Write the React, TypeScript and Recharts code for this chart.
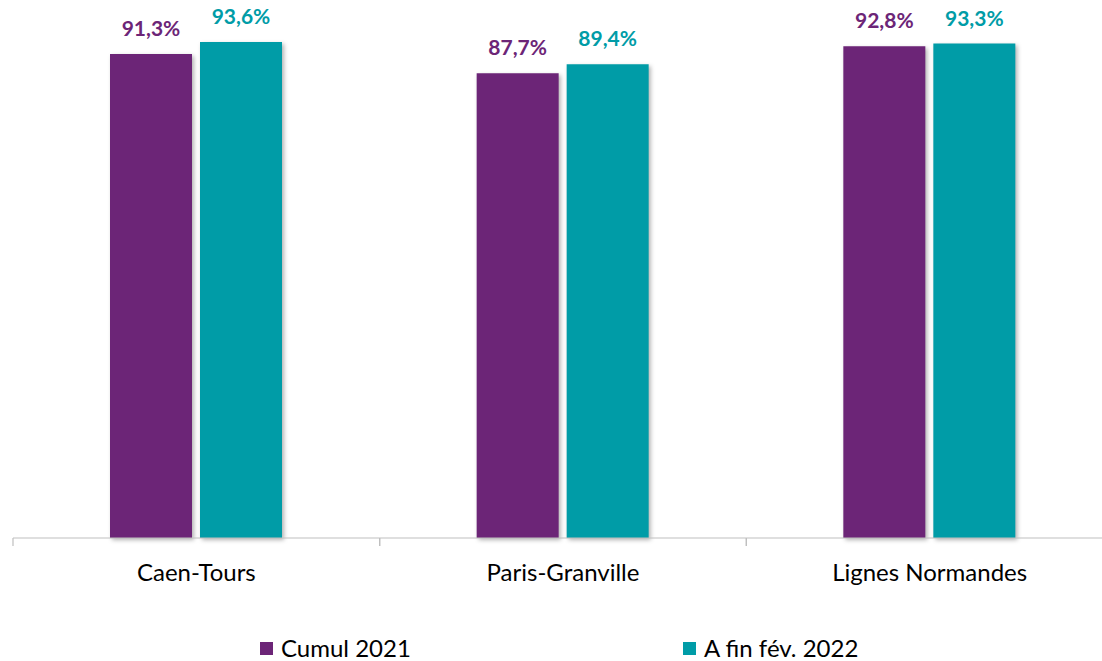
import React from 'react';
import { BarChart, Bar, XAxis, YAxis, LabelList, Legend, Rectangle } from 'recharts';

const categories = ['Caen-Tours', 'Paris-Granville', 'Lignes Normandes'];
const cumul2021 = [91.3, 87.7, 92.8];
const finFev2022 = [93.6, 89.4, 93.3];
const seriesNames = ['Cumul 2021', 'A fin fév. 2022'];

const PURPLE = '#6C2577';
const TEAL = '#009CA7';
const AXIS = '#BFBFBF';
const FONT = 'Lato, "Open Sans", sans-serif';

const data = categories.map((c, i) => ({ name: c, a: cumul2021[i], b: finFev2022[i] }));

const fmt = (v: any) => `${Number(v).toFixed(1).replace('.', ',')}%`;

const ShadowBar = (props: any) => (
  <Rectangle {...props} style={{ filter: 'drop-shadow(2px 2px 2px rgba(0,0,0,0.3))' }} />
);

const CategoryTick = (props: any) => {
  const { x, y, payload } = props;
  const half = payload && typeof payload.offset === 'number' && payload.offset > 0 ? payload.offset : 1100 / 6;
  const axisY = y - 26;
  return (
    <g>
      <line x1={x - half} y1={axisY} x2={x - half} y2={axisY + 8} stroke={AXIS} strokeWidth={1.2} />
      <line x1={x + half} y1={axisY} x2={x + half} y2={axisY + 8} stroke={AXIS} strokeWidth={1.2} />
      <text x={x} y={y} dy="0.71em" textAnchor="middle" fill="#000" fontSize={24} fontFamily={FONT}>
        {payload.value}
      </text>
    </g>
  );
};

const LegendContent = () => (
  <div style={{ position: 'relative', height: 26, fontFamily: FONT, fontSize: 24, color: '#000' }}>
    {[PURPLE, TEAL].map((col, i) => (
      <div key={i} style={{ position: 'absolute', left: i === 0 ? 260 : 683, top: 0, display: 'flex', alignItems: 'center', lineHeight: '26px', height: 26 }}>
        <span style={{ display: 'inline-block', width: 13, height: 13, background: col, marginRight: 8 }} />
        <span>{seriesNames[i]}</span>
      </div>
    ))}
  </div>
);

export default function App() {
  return (
    <div style={{ position: 'fixed', left: 0, top: 0, width: 1102, height: 661, overflow: 'hidden', background: '#fff' }}>
      <BarChart width={1115} height={661} data={data} margin={{ top: 8, right: 2, left: 13, bottom: 37 }} barSize={82} barGap={8}>
        <XAxis
          dataKey="name"
          axisLine={{ stroke: AXIS, strokeWidth: 1.2 }}
          tickLine={false}
          tickMargin={20}
          height={60}
          tick={<CategoryTick />}
          interval={0}
        />
        <YAxis domain={[0, 100]} hide />
        <Bar dataKey="a" name={seriesNames[0]} fill={PURPLE} isAnimationActive={false} shape={ShadowBar}>
          <LabelList dataKey="a" position="top" offset={18} formatter={fmt} fill={PURPLE} fontSize={21} fontWeight="bold" fontFamily={FONT} />
        </Bar>
        <Bar dataKey="b" name={seriesNames[1]} fill={TEAL} isAnimationActive={false} shape={ShadowBar}>
          <LabelList dataKey="b" position="top" offset={18} formatter={fmt} fill={TEAL} fontSize={21} fontWeight="bold" fontFamily={FONT} />
        </Bar>
        <Legend content={<LegendContent />} height={26} wrapperStyle={{ position: 'absolute', top: 635, left: 0, width: 1115, height: 26, bottom: 'auto' }} />
      </BarChart>
    </div>
  );
}
